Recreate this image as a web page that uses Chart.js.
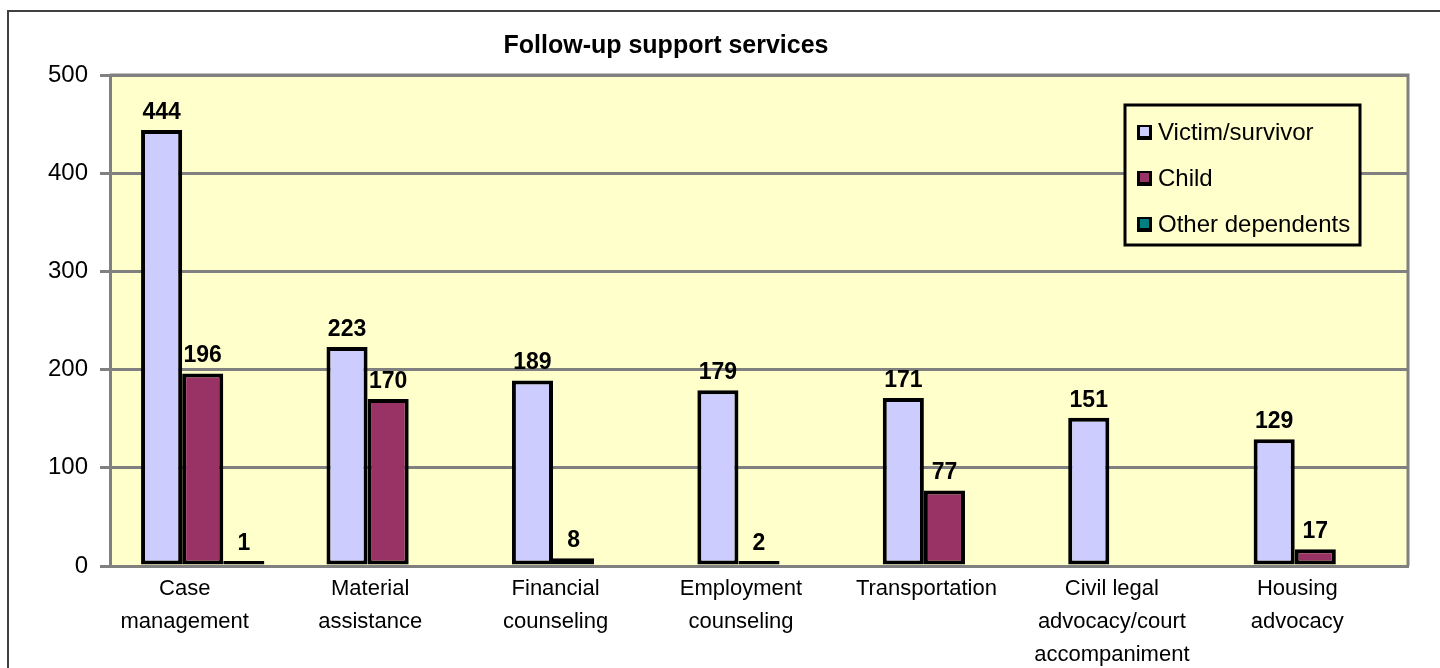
<!DOCTYPE html>
<html>
<head>
<meta charset="utf-8">
<script src="https://cdn.jsdelivr.net/npm/chart.js@4.4.1/dist/chart.umd.min.js"></script>
<style>
  html, body { margin: 0; padding: 0; background: #ffffff; }
  #wrap { position: relative; width: 1440px; height: 668px; overflow: hidden; }
  #frame { position: absolute; left: 7px; top: 10px; width: 1500px; height: 700px; border-left: 2px solid #404040; border-top: 2px solid #404040; }
  canvas { position: absolute; left: 0; top: 0; }
</style>
</head>
<body>
<div id="wrap">
  <div id="frame"></div>
  <canvas id="c" width="1440" height="668"></canvas>
</div>
<script>
const chartTitle = 'Follow-up support services';
const categories = [
  ['Case', 'management'],
  ['Material', 'assistance'],
  ['Financial', 'counseling'],
  ['Employment', 'counseling'],
  ['Transportation'],
  ['Civil legal', 'advocacy/court', 'accompaniment'],
  ['Housing', 'advocacy']
];
const seriesNames = ['Victim/survivor', 'Child', 'Other dependents'];
const victimValues = [444, 223, 189, 179, 171, 151, 129];
const childValues  = [196, 170, 8, 2, 77, 0, 17];
const otherValues  = [1, 0, 0, 0, 0, 0, 0];
const yTicks = [0, 100, 200, 300, 400, 500];

const seriesColors = ['#CCCCFF', '#993366', '#008080'];
const FONT = '"Liberation Sans", Arial, Helvetica, sans-serif';

// zero values draw no bar in the reference
const noZero = arr => arr.map(v => (v === 0 ? null : v));

const bgPlugin = {
  id: 'plotBg',
  beforeDraw(chart) {
    const { ctx, chartArea: a } = chart;
    ctx.save();
    ctx.fillStyle = '#FFFFCC';
    ctx.fillRect(a.left, a.top, a.right - a.left, a.bottom - a.top);
    ctx.restore();
  },
  afterDatasetsDraw(chart) {
    const { ctx, chartArea: a } = chart;
    ctx.save();
    ctx.strokeStyle = '#808080';
    ctx.lineWidth = 3;
    ctx.beginPath();
    ctx.moveTo(a.left, a.top);
    ctx.lineTo(a.right, a.top);
    ctx.lineTo(a.right, a.bottom);
    ctx.stroke();
    ctx.restore();
  }
};

const titlePlugin = {
  id: 'titleText',
  afterDraw(chart) {
    const { ctx } = chart;
    ctx.save();
    ctx.font = 'bold 25px ' + FONT;
    ctx.fillStyle = '#000';
    ctx.textAlign = 'center';
    ctx.textBaseline = 'middle';
    ctx.fillText(chartTitle, 666, 46);
    ctx.restore();
  }
};

const labelPlugin = {
  id: 'valueLabels',
  afterDatasetsDraw(chart) {
    const { ctx } = chart;
    ctx.save();
    ctx.font = 'bold 23px ' + FONT;
    ctx.fillStyle = '#000';
    ctx.textAlign = 'center';
    ctx.textBaseline = 'bottom';
    chart.data.datasets.forEach((ds, i) => {
      const meta = chart.getDatasetMeta(i);
      meta.data.forEach((bar, j) => {
        const v = ds.data[j];
        if (!v) return;
        ctx.fillText(String(v), bar.x, bar.y - 6);
      });
    });
    ctx.restore();
  }
};

const legendPlugin = {
  id: 'boxLegend',
  afterDraw(chart) {
    const { ctx } = chart;
    const x0 = 1125, y0 = 105, w = 235, h = 140;
    ctx.save();
    ctx.fillStyle = '#FFFFCC';
    ctx.fillRect(x0, y0, w, h);
    ctx.strokeStyle = '#000';
    ctx.lineWidth = 3;
    ctx.strokeRect(x0, y0, w, h);
    ctx.font = '24px ' + FONT;
    ctx.textBaseline = 'middle';
    ctx.textAlign = 'left';
    chart.data.datasets.forEach((ds, i) => {
      const cy = 132 + i * 46;
      ctx.fillStyle = '#000';
      ctx.fillRect(1137, cy - 7, 15, 15);
      ctx.fillStyle = ds.backgroundColor;
      ctx.fillRect(1140, cy - 5, 9, 9);
      ctx.fillStyle = '#000';
      ctx.fillText(ds.label, 1158, cy + 1);
    });
    ctx.restore();
  }
};

new Chart(document.getElementById('c'), {
  type: 'bar',
  data: {
    labels: categories,
    datasets: [
      { label: seriesNames[0], data: noZero(victimValues), backgroundColor: seriesColors[0] },
      { label: seriesNames[1], data: noZero(childValues), backgroundColor: seriesColors[1] },
      { label: seriesNames[2], data: noZero(otherValues), backgroundColor: seriesColors[2] }
    ]
  },
  options: {
    responsive: false,
    animation: false,
    events: [],
    layout: { padding: { left: 8, top: 75, right: 32, bottom: 0 } },
    datasets: {
      bar: {
        categoryPercentage: 0.665,
        barPercentage: 1.0,
        borderColor: '#000000',
        borderWidth: 4,
        borderSkipped: false,
        minBarLength: 5
      }
    },
    plugins: {
      legend: { display: false },
      title: { display: false },
      tooltip: { enabled: false }
    },
    scales: {
      x: {
        grid: { display: false, drawTicks: false },
        border: { display: true, color: '#808080', width: 3 },
        ticks: {
          color: '#000',
          font: { family: FONT, size: 22, lineHeight: 1.5 },
          padding: 6,
          labelOffset: -18,
          maxRotation: 0,
          autoSkip: false
        },
        afterFit(scale) { scale.height = 102; }
      },
      y: {
        min: 0,
        max: 500,
        afterBuildTicks(scale) { scale.ticks = yTicks.map(v => ({ value: v })); },
        grid: { color: '#808080', lineWidth: 3, drawTicks: true, tickLength: 10, tickColor: '#808080' },
        border: { display: true, color: '#808080', width: 3 },
        ticks: {
          color: '#000',
          font: { family: FONT, size: 24 },
          padding: 12
        },
        afterFit(scale) { scale.width = 102; }
      }
    }
  },
  plugins: [bgPlugin, labelPlugin, legendPlugin, titlePlugin]
});
</script>
</body>
</html>
